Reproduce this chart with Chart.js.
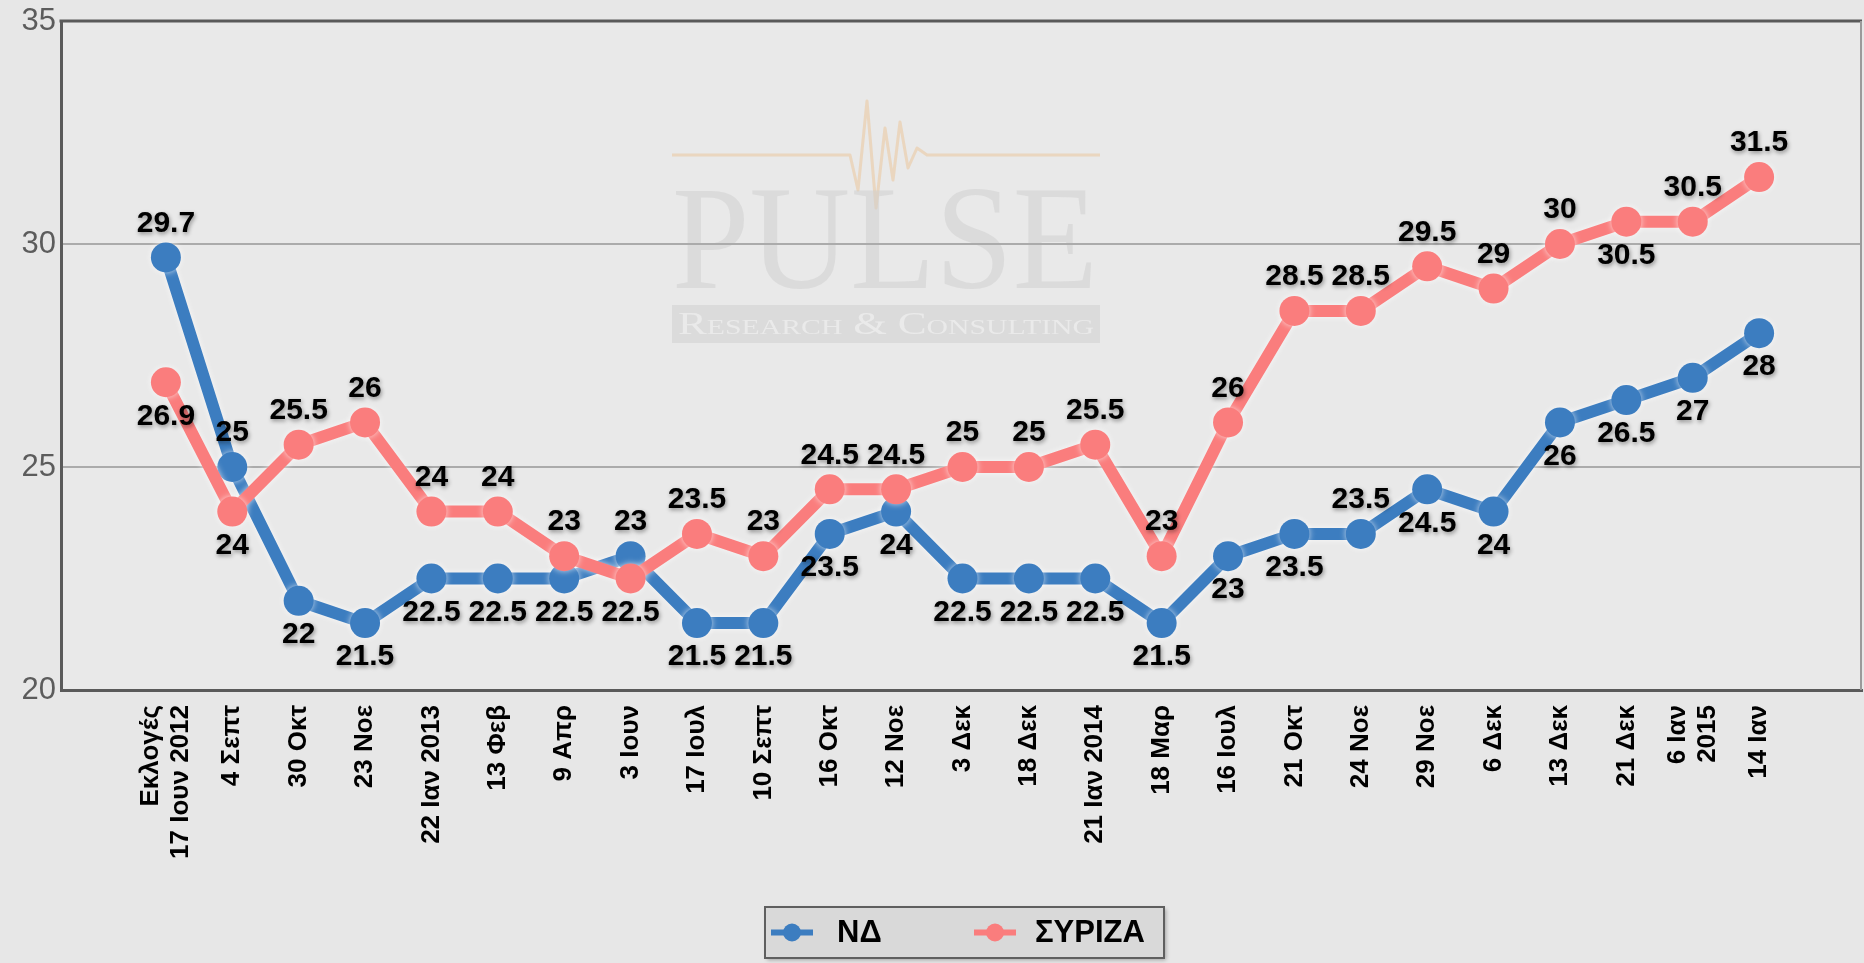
<!DOCTYPE html>
<html>
<head>
<meta charset="utf-8">
<script src="https://cdn.jsdelivr.net/npm/chart.js@4.4.0/dist/chart.umd.min.js"></script>
<style>
  html, body { margin: 0; padding: 0; background: #e7e7e7; overflow: hidden; }
  canvas { display: block; }
</style>
</head>
<body>
<canvas id="pollChart" width="1864" height="963"></canvas>
<script>
// poll dates (x axis)
const categories = [
    ['Εκλογές', '17 Ιουν 2012'], '4 Σεπτ', '30 Οκτ', '23 Νοε', '22 Ιαν 2013', '13 Φεβ', '9 Απρ',
    '3 Ιουν', '17 Ιουλ', '10 Σεπτ', '16 Οκτ', '12 Νοε', '3 Δεκ', '18 Δεκ', '21 Ιαν 2014', '18 Μαρ',
    '16 Ιουλ', '21 Οκτ', '24 Νοε', '29 Νοε', '6 Δεκ', '13 Δεκ', '21 Δεκ', ['6 Ιαν', '2015'], '14 Ιαν'
];
const seriesNames = ['ΝΔ', 'ΣΥΡΙΖΑ'];
const ndValues = [29.7, 25, 22, 21.5, 22.5, 22.5, 22.5, 23, 21.5, 21.5, 23.5, 24, 22.5, 22.5, 22.5, 21.5, 23, 23.5, 23.5, 24.5, 24, 26, 26.5, 27, 28];
const syrizaValues = [26.9, 24, 25.5, 26, 24, 24, 23, 22.5, 23.5, 23, 24.5, 24.5, 25, 25, 25.5, 23, 26, 28.5, 28.5, 29.5, 29, 30, 30.5, 30.5, 31.5];
const yTicks = [20, 25, 30, 35];

const ND_COLOR = '#3c7dc0';
const SYRIZA_COLOR = '#fa7d7d';
const FONT = '"Liberation Sans", Arial, sans-serif';

// labels that sit on the "wrong" side in the original
const labelSide = { '0:18': 'up', '1:22': 'down' };

function drawWatermark(ctx) {
    ctx.save();
    // pulse line
    ctx.strokeStyle = 'rgba(236, 196, 150, 0.5)';
    ctx.lineWidth = 3;
    ctx.lineJoin = 'round';
    const pts = [[672,155],[850,155],[858,190],[867,101],[876,208],[885,128],[893,180],[900,122],[908,168],[917,148],[927,155],[1100,155]];
    ctx.beginPath();
    pts.forEach((p, i) => i ? ctx.lineTo(p[0], p[1]) : ctx.moveTo(p[0], p[1]));
    ctx.stroke();

    // PULSE
    ctx.fillStyle = 'rgba(205, 205, 205, 0.5)';
    ctx.font = '148px "Liberation Serif", "DejaVu Serif", serif';
    ctx.textBaseline = 'alphabetic';
    ctx.textAlign = 'left';
    ctx.save();
    ctx.translate(672, 288);
    const w = ctx.measureText('PULSE').width;
    ctx.scale(426 / w, 1);
    ctx.fillText('PULSE', 0, 0);
    ctx.restore();

    // bar with subtitle
    ctx.fillStyle = 'rgba(205, 205, 205, 0.5)';
    ctx.fillRect(672, 305, 428, 38);
    ctx.fillStyle = 'rgba(238, 238, 238, 0.8)';
    ctx.font = 'small-caps 32px "Liberation Serif", serif';
    ctx.textBaseline = 'middle';
    ctx.save();
    ctx.translate(678, 326);
    const w2 = ctx.measureText('Research & Consulting').width;
    ctx.scale(416 / w2, 1);
    ctx.fillText('Research & Consulting', 0, 0);
    ctx.restore();
    ctx.restore();
}

const backgroundPlugin = {
    id: 'background',
    beforeDraw(chart) {
        const { ctx, chartArea: a } = chart;
        ctx.save();
        ctx.fillStyle = '#e7e7e7';
        ctx.fillRect(0, 0, chart.width, chart.height);
        ctx.fillStyle = '#e9e9e9';
        ctx.fillRect(a.left, a.top, a.right - a.left, a.bottom - a.top);
        ctx.restore();
        drawWatermark(ctx);
    },
    afterDraw(chart) {
        const { ctx, chartArea: a } = chart;
        ctx.save();
        ctx.strokeStyle = '#5a5a5a';
        ctx.lineWidth = 3;
        ctx.beginPath();
        ctx.moveTo(a.left - 1.5, a.top);
        ctx.lineTo(a.right, a.top);
        ctx.stroke();
        ctx.strokeStyle = '#9a9a9a';
        ctx.lineWidth = 2;
        ctx.beginPath();
        ctx.moveTo(a.right - 1, a.top);
        ctx.lineTo(a.right - 1, a.bottom);
        ctx.stroke();
        ctx.restore();
    }
};

// x labels, vertical, with multi-line labels centred on their tick
const xLabelPlugin = {
    id: 'xLabels',
    afterDraw(chart) {
        const { ctx, chartArea: a } = chart;
        const xs = chart.scales.x;
        const lh = 30;
        ctx.save();
        ctx.font = 'bold 26px ' + FONT;
        ctx.fillStyle = '#000';
        ctx.textAlign = 'right';
        ctx.textBaseline = 'middle';
        categories.forEach((c, i) => {
            const lines = Array.isArray(c) ? c : [c];
            const px = xs.getPixelForValue(i);
            lines.forEach((line, j) => {
                ctx.save();
                ctx.translate(px + (j - (lines.length - 1) / 2) * lh, a.bottom + 15);
                ctx.rotate(-Math.PI / 2);
                ctx.fillText(line, 0, 0);
                ctx.restore();
            });
        });
        ctx.restore();
    }
};

// soft halo round the lines
const haloPlugin = {
    id: 'halo',
    beforeDatasetDraw(chart) {
        const ctx = chart.ctx;
        ctx.save();
        ctx.shadowColor = 'rgba(255, 255, 255, 0.7)';
        ctx.shadowBlur = 6;
    },
    afterDatasetDraw(chart) {
        chart.ctx.restore();
    }
};

const pointLabelPlugin = {
    id: 'pointLabels',
    afterDatasetsDraw(chart) {
        const ctx = chart.ctx;
        ctx.save();
        ctx.font = 'bold 30px ' + FONT;
        ctx.textAlign = 'center';
        ctx.textBaseline = 'middle';
        ctx.fillStyle = '#000';
        ctx.shadowColor = 'rgba(0, 0, 0, 0.4)';
        ctx.shadowBlur = 4;
        ctx.shadowOffsetX = 1;
        ctx.shadowOffsetY = 2;
        chart.data.datasets.forEach((ds, di) => {
            const other = chart.data.datasets[1 - di].data;
            chart.getDatasetMeta(di).data.forEach((pt, i) => {
                const v = ds.data[i].y;
                let up = v > other[i].y;
                const key = di + ':' + i;
                if (key in labelSide) up = labelSide[key] === 'up';
                ctx.fillText(String(v), pt.x, pt.y + (up ? -34 : 34));
            });
        });
        ctx.restore();
    }
};

const legendPlugin = {
    id: 'boxLegend',
    afterDraw(chart) {
        const ctx = chart.ctx;
        const box = { x: 765, y: 907, w: 399, h: 51 };
        ctx.save();
        ctx.shadowColor = 'rgba(0,0,0,0.3)';
        ctx.shadowBlur = 4;
        ctx.shadowOffsetX = 2;
        ctx.shadowOffsetY = 2;
        ctx.fillStyle = '#d9d9d9';
        ctx.fillRect(box.x, box.y, box.w, box.h);
        ctx.shadowColor = 'transparent';
        ctx.strokeStyle = '#5f5f5f';
        ctx.lineWidth = 2;
        ctx.strokeRect(box.x, box.y, box.w, box.h);

        const items = [
            { mark: 792, text: 837 },
            { mark: 995, text: 1035 }
        ];
        const cy = box.y + box.h / 2;
        chart.data.datasets.forEach((ds, i) => {
            const it = items[i];
            ctx.strokeStyle = ds.borderColor;
            ctx.fillStyle = ds.borderColor;
            ctx.lineWidth = 6;
            ctx.beginPath();
            ctx.moveTo(it.mark - 21, cy);
            ctx.lineTo(it.mark + 21, cy);
            ctx.stroke();
            ctx.beginPath();
            ctx.arc(it.mark, cy, 9, 0, Math.PI * 2);
            ctx.fill();
            ctx.fillStyle = '#000';
            ctx.font = 'bold 31px ' + FONT;
            ctx.textAlign = 'left';
            ctx.textBaseline = 'middle';
            ctx.fillText(ds.label, it.text, cy + 1);
        });
        ctx.restore();
    }
};

function toPoints(values) {
    return values.map((v, i) => ({ x: i, y: v }));
}

const ctx = document.getElementById('pollChart').getContext('2d');
new Chart(ctx, {
    type: 'line',
    data: {
        datasets: [
            {
                label: seriesNames[0],
                data: toPoints(ndValues),
                borderColor: ND_COLOR,
                backgroundColor: ND_COLOR,
                borderWidth: 12,
                pointRadius: 15,
                pointBorderWidth: 0,
                order: 1
            },
            {
                label: seriesNames[1],
                data: toPoints(syrizaValues),
                borderColor: SYRIZA_COLOR,
                backgroundColor: SYRIZA_COLOR,
                borderWidth: 12,
                pointRadius: 15,
                pointBorderWidth: 0,
                order: 0
            }
        ]
    },
    options: {
        responsive: false,
        animation: false,
        clip: false,
        layout: { autoPadding: false, padding: { top: 21, right: 2, left: 0, bottom: 0 } },
        plugins: {
            legend: { display: false },
            tooltip: { enabled: false }
        },
        scales: {
            x: {
                type: 'linear',
                min: -1.58,
                max: 25.55,
                afterBuildTicks: scale => {
                    scale.ticks = categories.map((c, i) => ({ value: i }));
                },
                afterFit: scale => {
                    scale.height = 273;
                    scale.paddingLeft = 0;
                    scale.paddingRight = 0;
                },
                grid: { display: false },
                border: { display: true, color: '#5a5a5a', width: 3 },
                ticks: { display: false }
            },
            y: {
                min: 20,
                max: 35,
                afterBuildTicks: scale => {
                    scale.ticks = yTicks.map(v => ({ value: v }));
                },
                afterFit: scale => { scale.width = 61; },
                grid: { color: '#ababab', lineWidth: 2, drawTicks: false },
                border: { display: true, color: '#5a5a5a', width: 3 },
                ticks: {
                    padding: 5,
                    color: '#5c5c5c',
                    font: { family: FONT, size: 31, lineHeight: 0.9 }
                }
            }
        }
    },
    plugins: [backgroundPlugin, haloPlugin, pointLabelPlugin, xLabelPlugin, legendPlugin]
});
</script>
</body>
</html>
